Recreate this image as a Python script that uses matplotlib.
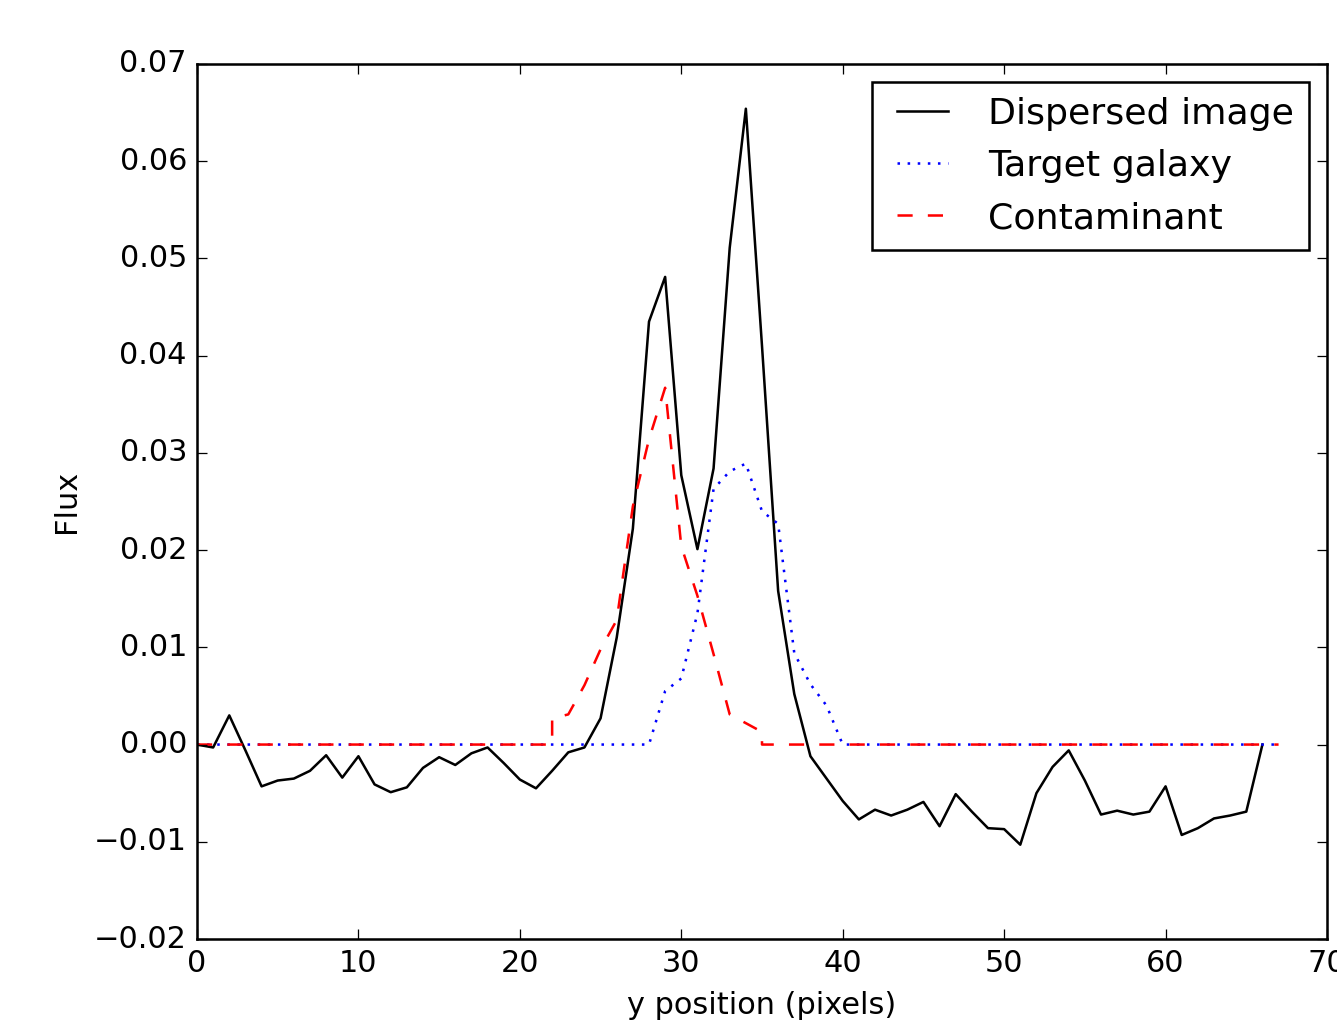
import matplotlib
matplotlib.use('Agg')
import matplotlib.pyplot as plt
from matplotlib.ticker import MultipleLocator

# flux profiles along the cross-dispersion direction
pix = list(range(67))
dispersed = [0.0000, -0.0003, 0.0030, -0.0006, -0.0043, -0.0037, -0.0035, -0.0027,
             -0.0011, -0.0034, -0.0012, -0.0041, -0.0049, -0.0044, -0.0024, -0.0013,
             -0.0021, -0.0009, -0.0003, -0.0019, -0.0036, -0.0045, -0.0027, -0.0008,
             -0.0003, 0.0027, 0.0110, 0.0222, 0.0435, 0.0481, 0.0277, 0.0201,
             0.0284, 0.0511, 0.0654, 0.0410, 0.0158, 0.0052, -0.0012, -0.0035,
             -0.0058, -0.0077, -0.0067, -0.0073, -0.0067, -0.0059, -0.0084, -0.0051,
             -0.0069, -0.0086, -0.0087, -0.0103, -0.0050, -0.0023, -0.0006, -0.0037,
             -0.0072, -0.0068, -0.0072, -0.0069, -0.0043, -0.0093, -0.0086, -0.0076,
             -0.0073, -0.0069, 0.0000]

target_pix = list(range(68))
target = [0.0] * 29 + [0.0055, 0.0068, 0.0135, 0.0263, 0.0281, 0.0289, 0.0240,
                       0.0227, 0.0094, 0.0062, 0.0040] + [0.0] * 28

contam_pix = list(range(23)) + [22] + list(range(23, 36)) + [35] + list(range(36, 68))
contam = [0.0] * 23 + [0.0027, 0.0031, 0.0061, 0.0098, 0.0128, 0.0245, 0.0314,
                       0.0367, 0.0204, 0.0153, 0.0093, 0.0031, 0.0022, 0.0013] + [0.0] * 33

plt.style.use('classic')
plt.rcParams['font.family'] = 'DejaVu Sans'

dpi = 182
fig = plt.figure(figsize=(1337 / dpi, 1024 / dpi), dpi=dpi, facecolor='white')
ax = fig.add_axes([197 / 1337, 85 / 1024, 1130 / 1337, 875 / 1024])

ax.plot(pix, dispersed, 'k-', label='Dispersed image')
ax.plot(target_pix, target, 'b:', label='Target galaxy')
ax.plot(contam_pix, contam, 'r--', label='Contaminant')

ax.set_xlim(0, 70)
ax.set_ylim(-0.02, 0.07)
ax.xaxis.set_major_locator(MultipleLocator(10))
ax.yaxis.set_major_locator(MultipleLocator(0.01))
ax.set_xlabel('y position (pixels)')
ax.set_ylabel('Flux')
ax.legend(loc='upper right')

fig.savefig('out.png', dpi=dpi, facecolor='white')
